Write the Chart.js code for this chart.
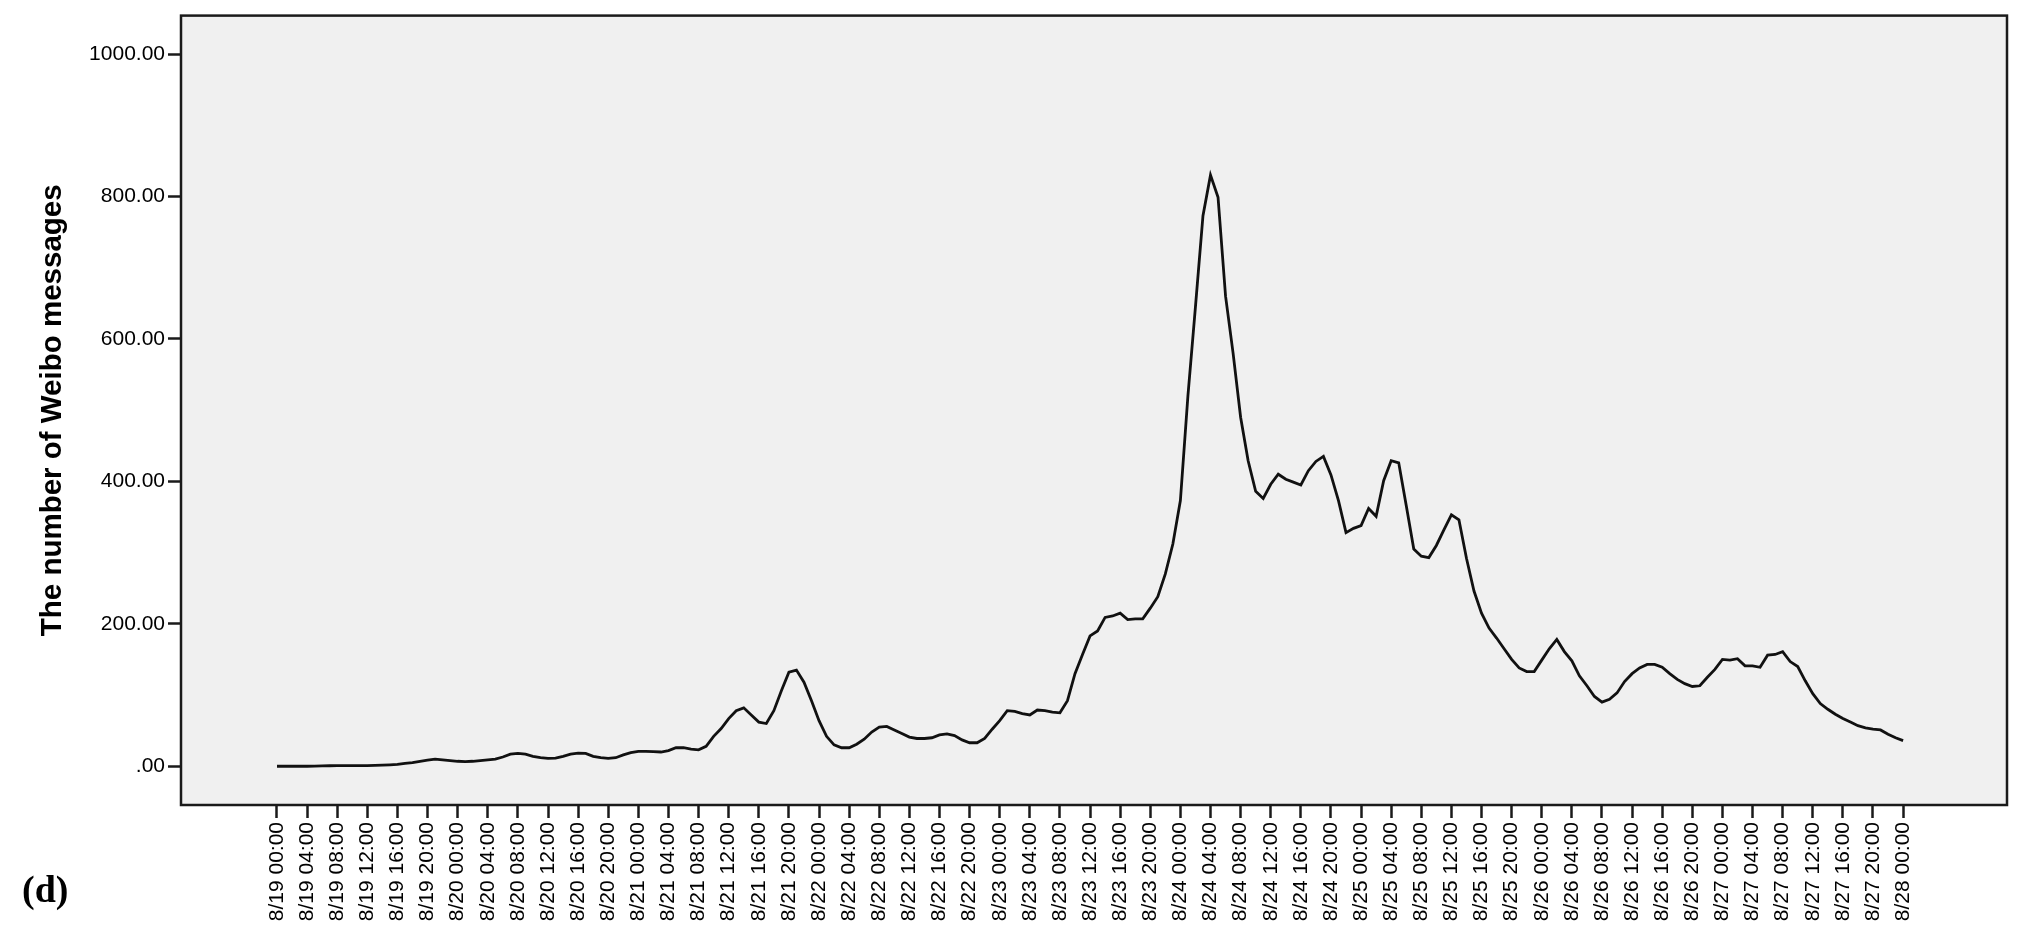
<!DOCTYPE html>
<html>
<head>
<meta charset="utf-8">
<script src="https://cdn.jsdelivr.net/npm/chart.js@4.4.1/dist/chart.umd.min.js"></script>
<style>
  html, body { margin: 0; padding: 0; background: #fff; }
  #wrap { position: relative; width: 2028px; height: 934px; }
  #panel {
    position: absolute; left: 22px; top: 870px;
    font-family: 'Liberation Serif', 'Times New Roman', serif;
    font-weight: bold; font-size: 38px; line-height: 1; color: #000;
  }
</style>
</head>
<body>
<div id="wrap">
  <canvas id="grafico"></canvas>
  <div id="panel">(d)</div>
</div>
<script>
// etichette asse x (ogni 4 ore)
const tickLabels = [
  '8/19 00:00', '8/19 04:00', '8/19 08:00', '8/19 12:00', '8/19 16:00', '8/19 20:00',
  '8/20 00:00', '8/20 04:00', '8/20 08:00', '8/20 12:00', '8/20 16:00', '8/20 20:00',
  '8/21 00:00', '8/21 04:00', '8/21 08:00', '8/21 12:00', '8/21 16:00', '8/21 20:00',
  '8/22 00:00', '8/22 04:00', '8/22 08:00', '8/22 12:00', '8/22 16:00', '8/22 20:00',
  '8/23 00:00', '8/23 04:00', '8/23 08:00', '8/23 12:00', '8/23 16:00', '8/23 20:00',
  '8/24 00:00', '8/24 04:00', '8/24 08:00', '8/24 12:00', '8/24 16:00', '8/24 20:00',
  '8/25 00:00', '8/25 04:00', '8/25 08:00', '8/25 12:00', '8/25 16:00', '8/25 20:00',
  '8/26 00:00', '8/26 04:00', '8/26 08:00', '8/26 12:00', '8/26 16:00', '8/26 20:00',
  '8/27 00:00', '8/27 04:00', '8/27 08:00', '8/27 12:00', '8/27 16:00', '8/27 20:00',
  '8/28 00:00'
];
// ora (da 8/19 00:00) di ogni etichetta
const tickHours = [
  0, 4, 8, 12, 16, 20, 24, 28, 32, 36, 40, 44, 48, 52, 56, 60, 64, 68,
  72, 76, 80, 84, 88, 92, 96, 100, 104, 108, 112, 116, 120, 124, 128, 132, 136, 140,
  144, 148, 152, 156, 160, 164, 168, 172, 176, 180, 184, 188, 192, 196, 200, 204, 208, 212,
  216
];
const yTicks = [0, 200, 400, 600, 800, 1000];

// messaggi Weibo per ora (indice = ore da 8/19 00:00)
const messages = [
  // 8/19
  0, 0, 0, 0, 0, 0.3, 0.5, 0.7, 1, 1, 1, 1,
  1, 1.2, 1.5, 2, 2.5, 4, 5, 7, 8.5, 10, 9, 8,
  // 8/20
  7, 6.5, 7, 8, 9, 10, 13, 17, 18, 17, 14, 12,
  11, 11.5, 14, 17, 18.5, 18, 14, 12, 11, 12, 16, 19,
  // 8/21
  21, 21, 20.5, 20, 22, 26, 26, 24, 23, 28, 42, 53,
  67, 78, 82, 72, 62, 60, 78, 106, 132, 135, 118, 92,
  // 8/22
  64, 42, 30, 26, 26, 31, 38, 48, 55, 56, 51, 46,
  41, 39, 39, 40, 44, 45.5, 43, 37, 33, 33, 39, 52,
  // 8/23
  64, 78, 77, 74, 72, 79, 78, 76, 75, 92, 130, 157,
  183, 190, 209, 211, 215, 206, 207, 207, 222, 238, 270, 312,
  // 8/24
  373, 520, 645, 773, 830, 799, 660, 580, 490, 429, 386, 376,
  396, 410, 403, 399, 395, 415, 428, 435, 409, 373, 328, 334,
  // 8/25
  338, 362, 351, 401, 429, 426, 366, 305, 295, 293, 310, 332,
  353, 346, 292, 246, 215, 194, 180, 165, 150, 138, 133, 133,
  // 8/26
  149, 165, 178, 161, 148, 127, 113, 98, 90, 94, 103, 119,
  130, 138, 143, 143, 139, 130, 122, 116, 112, 113, 125, 136,
  // 8/27
  150, 149, 151, 141, 141, 139, 156, 157, 161, 147, 140, 120,
  102, 88, 80, 73, 67, 62, 57, 54, 52, 51, 45, 40,
  // 8/28
  36
];

const fontFamily = "'Liberation Sans', Arial, sans-serif";

// sfondo grigio + cornice dell'area del grafico
const cornice = {
  id: 'cornice',
  beforeDraw(chart) {
    const { ctx, chartArea: a } = chart;
    ctx.save();
    ctx.fillStyle = '#f0f0f0';
    ctx.fillRect(a.left, a.top, a.right - a.left, a.bottom - a.top);
    ctx.restore();
  },
  afterDraw(chart) {
    const { ctx, chartArea: a } = chart;
    ctx.save();
    ctx.strokeStyle = '#1a1a1a';
    ctx.lineWidth = 2.5;
    ctx.strokeRect(a.left, a.top, a.right - a.left, a.bottom - a.top);
    ctx.restore();
  }
};

const ctx = document.getElementById('grafico').getContext('2d');

new Chart(ctx, {
  type: 'line',
  data: {
    datasets: [{
      data: messages.map((v, i) => ({ x: i, y: v })),
      borderColor: '#111',
      borderWidth: 2.8,
      pointRadius: 0,
      tension: 0,
      fill: false
    }]
  },
  options: {
    responsive: true,
    maintainAspectRatio: false,
    animation: false,
    devicePixelRatio: 1,
    layout: { padding: { left: 0, top: 10, right: 21, bottom: 0 } },
    plugins: {
      legend: { display: false },
      tooltip: { enabled: false }
    },
    scales: {
      x: {
        type: 'linear',
        min: -12.75,
        max: 229.8,
        border: { display: false },
        grid: {
          drawOnChartArea: false,
          drawTicks: true,
          tickLength: 13,
          tickWidth: 2.5,
          tickColor: '#1a1a1a'
        },
        afterBuildTicks(scale) {
          scale.ticks = tickHours.map(h => ({ value: h }));
        },
        afterFit(scale) { scale.height = 129; },
        ticks: {
          autoSkip: false,
          minRotation: 90,
          maxRotation: 90,
          padding: 4,
          color: '#000',
          font: { family: fontFamily, size: 21 },
          callback: (value, index) => tickLabels[index]
        }
      },
      y: {
        min: -54.4,
        max: 1054,
        border: { display: false },
        grid: {
          drawOnChartArea: false,
          drawTicks: true,
          tickLength: 13,
          tickWidth: 2.5,
          tickColor: '#1a1a1a'
        },
        afterBuildTicks(scale) {
          scale.ticks = yTicks.map(v => ({ value: v }));
        },
        afterFit(scale) { scale.width = 181; },
        ticks: {
          padding: 3,
          color: '#000',
          font: { family: fontFamily, size: 21 },
          callback: v => (v === 0 ? '.00' : v.toFixed(2))
        },
        title: {
          display: true,
          text: 'The number of Weibo messages',
          color: '#000',
          padding: { top: 35, bottom: 0 },
          font: { family: fontFamily, size: 29.5, weight: 'bold' }
        }
      }
    }
  },
  plugins: [cornice]
});
</script>
</body>
</html>
